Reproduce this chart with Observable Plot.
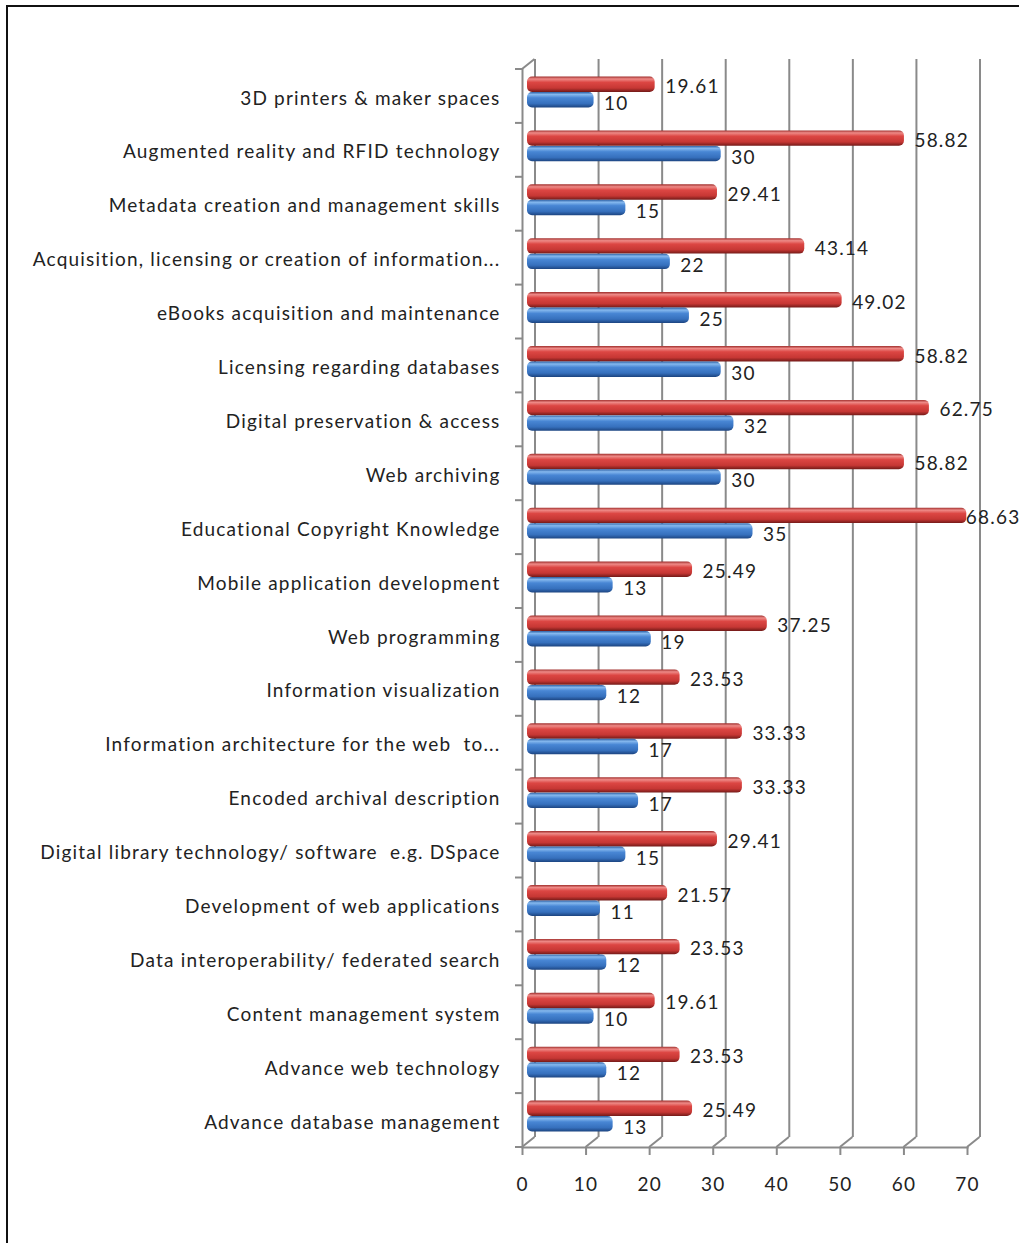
<!DOCTYPE html>
<html>
<head>
<meta charset="utf-8">
<script src="https://cdn.jsdelivr.net/npm/d3@7"></script>
<script src="https://cdn.jsdelivr.net/npm/@observablehq/plot@0.6"></script>
<style>
  html, body { margin: 0; padding: 0; background: #fff; }
  #wrap { position: relative; width: 1019px; height: 1243px; overflow: hidden; }
  #chart { position: absolute; left: 0; top: 0; }
  #border { position: absolute; left: 6px; top: 5px; right: -10px; bottom: -10px;
            border-left: 2px solid #111; border-top: 2px solid #111; pointer-events: none; }
</style>
</head>
<body>
<svg width="0" height="0" style="position:absolute">
  <defs>
    <linearGradient id="gRed" x1="0" y1="0" x2="0" y2="1">
      <stop offset="0" stop-color="#a02e2c"/>
      <stop offset="0.16" stop-color="#ee8a87"/>
      <stop offset="0.38" stop-color="#dc4643"/>
      <stop offset="0.75" stop-color="#c63734"/>
      <stop offset="1" stop-color="#731a18"/>
    </linearGradient>
    <linearGradient id="gBlue" x1="0" y1="0" x2="0" y2="1">
      <stop offset="0" stop-color="#2c5fa3"/>
      <stop offset="0.16" stop-color="#85b8ee"/>
      <stop offset="0.38" stop-color="#4886d4"/>
      <stop offset="0.75" stop-color="#3670bd"/>
      <stop offset="1" stop-color="#1c4480"/>
    </linearGradient>
  </defs>
</svg>
<div id="wrap">
  <div id="chart"></div>
  <div id="border"></div>
</div>
<script>
const categories = [
  "3D printers & maker spaces",
  "Augmented reality and RFID technology",
  "Metadata creation and management skills",
  "Acquisition, licensing or creation of information...",
  "eBooks acquisition and maintenance",
  "Licensing regarding databases",
  "Digital preservation & access",
  "Web archiving",
  "Educational Copyright Knowledge",
  "Mobile application development",
  "Web programming",
  "Information visualization",
  "Information architecture for the web  to...",
  "Encoded archival description",
  "Digital library technology/ software  e.g. DSpace",
  "Development of web applications",
  "Data interoperability/ federated search",
  "Content management system",
  "Advance web technology",
  "Advance database management"
];
const percentValues = [19.61, 58.82, 29.41, 43.14, 49.02, 58.82, 62.75, 58.82, 68.63, 25.49,
                       37.25, 23.53, 33.33, 33.33, 29.41, 21.57, 23.53, 19.61, 23.53, 25.49];
const countValues   = [10, 30, 15, 22, 25, 30, 32, 30, 35, 13,
                       19, 12, 17, 17, 15, 11, 12, 10, 12, 13];
const xTicks = [0, 10, 20, 30, 40, 50, 60, 70];

const redData = categories.map((c, i) => ({category: c, value: percentValues[i]}));
const blueData = categories.map((c, i) => ({category: c, value: countValues[i]}));

const DX = 12.5, DY = -10;
const GRID = "#8a8a8a";
const EDGE = 65; // labels beyond this value would leave the picture: place them on the bar end

function decor(index, scales, values, dims) {
  const g = d3.create("svg:g").attr("stroke", GRID).attr("stroke-width", 2).attr("fill", "none");
  const top = dims.marginTop, bottom = dims.height - dims.marginBottom;
  const x0 = scales.x(0);
  for (const t of xTicks) {
    const xx = scales.x(t);
    g.append("path").attr("d", `M${xx},${bottom}L${xx + DX},${bottom + DY}`);
  }
  g.append("path").attr("d", `M${x0},${top}L${x0 + DX},${top + DY}`);
  const bw = scales.y.bandwidth ? scales.y.bandwidth() : 0;
  const ys = categories.map(c => scales.y(c)).concat([scales.y(categories[categories.length - 1]) + bw]);
  for (const yy of ys) {
    g.append("path").attr("d", `M${x0 - 7},${yy}L${x0},${yy}`);
  }
  return g.node();
}

const textCommon = {x: "value", y: "category", textAnchor: "start", fill: "#222", fontSize: 19};

const chart = Plot.plot({
  width: 1019,
  height: 1243,
  marginLeft: 522,
  marginRight: 52,
  marginTop: 69,
  marginBottom: 96,
  style: {fontFamily: "Lato, 'Open Sans', sans-serif", fontSize: "19px", color: "#222",
          background: "transparent", letterSpacing: "1.2px", overflow: "visible"},
  x: {domain: [0, 70]},
  y: {domain: categories, padding: 0, round: false},
  marks: [
    Plot.ruleX(xTicks, {dx: DX, dy: DY, stroke: GRID, strokeWidth: 2}),
    Plot.ruleX([0], {stroke: GRID, strokeWidth: 2}),
    Plot.frame({anchor: "bottom", stroke: GRID, strokeWidth: 2}),
    decor,
    Plot.axisX({ticks: xTicks, tickSize: 8, tickPadding: 22, stroke: GRID, strokeWidth: 2,
                fill: "#222", label: null, fontSize: 19}),
    Plot.axisY({tickSize: 0, tickPadding: 22, dy: 2, fill: "#222", label: null, fontSize: 19}),
    Plot.barX(redData, {x: "value", y: "category", fill: "url(#gRed)", dx: 8, insetLeft: -3,
                        insetTop: 7.5, insetBottom: 31, rx: 5}),
    Plot.barX(blueData, {x: "value", y: "category", fill: "url(#gBlue)", dx: 8, insetLeft: -3,
                         insetTop: 23, insetBottom: 15.5, rx: 5}),
    Plot.text(redData.filter(d => d.value <= EDGE), {...textCommon, text: d => d.value.toFixed(2), dx: 18, dy: -9.5}),
    Plot.text(redData.filter(d => d.value > EDGE), {...textCommon, text: d => d.value.toFixed(2), dx: 7, dy: -9.5}),
    Plot.text(blueData, {...textCommon, text: d => String(d.value), dx: 18, dy: 7.5})
  ]
});
document.getElementById("chart").appendChild(chart);
</script>
</body>
</html>
